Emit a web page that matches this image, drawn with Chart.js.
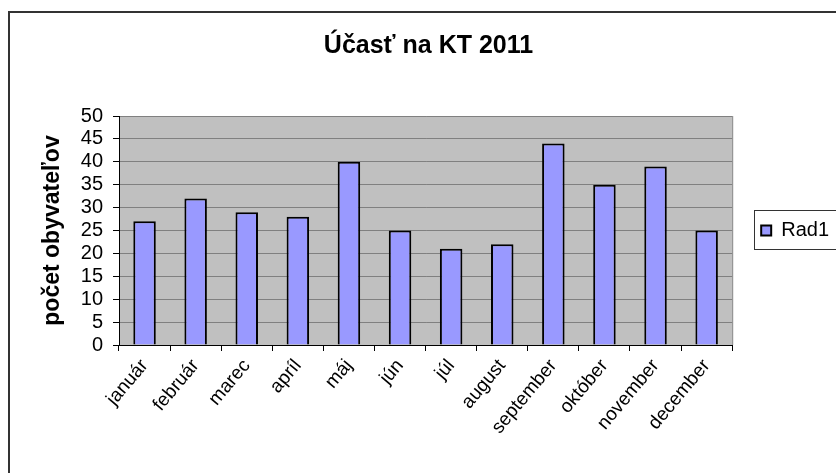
<!DOCTYPE html>
<html>
<head>
<meta charset="utf-8">
<script src="https://cdn.jsdelivr.net/npm/chart.js@4.4.1/dist/chart.umd.min.js"></script>
<style>
  html, body { margin: 0; padding: 0; overflow: hidden; background: #fff; }
</style>
</head>
<body>
<canvas id="ucastChart" width="880" height="500"></canvas>
<script>
// Data
const months = ['január', 'február', 'marec', 'apríl', 'máj', 'jún', 'júl', 'august', 'september', 'október', 'november', 'december'];
const rad1 = [27, 32, 29, 28, 40, 25, 21, 22, 44, 35, 39, 25];
const yTicks = [0, 5, 10, 15, 20, 25, 30, 35, 40, 45, 50];

const fontFamily = '"Liberation Sans", Arial, sans-serif';

// Grey plot area, outer frame and a box round the legend
const excelLook = {
    id: 'excelLook',
    beforeDraw(chart) {
        const ctx = chart.ctx;
        const a = chart.chartArea;
        ctx.save();
        ctx.fillStyle = '#fff';
        ctx.fillRect(0, 0, chart.width, chart.height);
        ctx.fillStyle = '#c0c0c0';
        ctx.fillRect(a.left, a.top, a.right - a.left, a.bottom - a.top);
        ctx.restore();
    },
    afterDraw(chart) {
        const ctx = chart.ctx;
        const a = chart.chartArea;
        ctx.save();
        // right edge of plot area
        ctx.strokeStyle = '#808080';
        ctx.lineWidth = 1;
        ctx.beginPath();
        ctx.moveTo(a.right + 0.5, a.top);
        ctx.lineTo(a.right + 0.5, a.bottom);
        ctx.stroke();
        // outer frame (right / bottom edges are cut off like in the reference)
        ctx.strokeStyle = '#333';
        ctx.lineWidth = 2;
        ctx.strokeRect(9, 12, chart.width, chart.height);
        // legend frame
        const hb = chart.legend.legendHitBoxes[0];
        if (hb) {
            ctx.strokeStyle = '#333';
            ctx.lineWidth = 1;
            ctx.strokeRect(Math.round(hb.left - 7) + 0.5, Math.round(hb.top - 11) + 0.5, hb.width + 16, hb.height + 19);
        }
        ctx.restore();
    }
};

const ctx = document.getElementById('ucastChart').getContext('2d');
const ucastChart = new Chart(ctx, {
    type: 'bar',
    data: {
        labels: months,
        datasets: [{
            label: 'Rad1',
            data: rad1,
            backgroundColor: '#9999ff',
            borderColor: '#000',
            borderWidth: 2,
            barPercentage: 0.44,
            categoryPercentage: 1
        }]
    },
    options: {
        responsive: false,
        animation: false,
        layout: {
            padding: { top: 0, left: 18, right: 41, bottom: 0 }
        },
        plugins: {
            title: {
                display: true,
                text: 'Účasť na KT 2011',
                color: '#000',
                font: { family: fontFamily, size: 25, weight: 'bold' },
                padding: { top: 31, bottom: 55 }
            },
            legend: {
                position: 'right',
                fullSize: false,
                labels: {
                    color: '#000',
                    font: { family: fontFamily, size: 20 },
                    boxWidth: 10,
                    boxHeight: 10,
                    padding: 29
                }
            },
            tooltip: { enabled: false }
        },
        scales: {
            x: {
                grid: {
                    drawOnChartArea: false,
                    tickLength: 6,
                    tickColor: '#000',
                    offset: true
                },
                border: { color: '#000', width: 1 },
                ticks: {
                    color: '#000',
                    font: { family: fontFamily, size: 19 },
                    minRotation: 50,
                    maxRotation: 50,
                    autoSkip: false,
                    padding: 4
                },
                afterFit(scale) { scale.height = 155; }
            },
            y: {
                min: 0,
                max: 50,
                afterBuildTicks(scale) {
                    scale.ticks = yTicks.map(v => ({ value: v }));
                },
                grid: {
                    color: '#808080',
                    tickColor: '#000',
                    tickLength: 6
                },
                border: { color: '#000', width: 1 },
                ticks: {
                    color: '#000',
                    font: { family: fontFamily, size: 20 },
                    padding: 10,
                    autoSkip: false,
                    stepSize: 5
                },
                title: {
                    display: true,
                    text: 'počet obyvateľov',
                    color: '#000',
                    font: { family: fontFamily, size: 23, weight: 'bold' },
                    padding: { top: 21, bottom: 4 }
                },
                afterFit(scale) { scale.width = 101; }
            }
        }
    },
    plugins: [excelLook]
});
</script>
</body>
</html>
